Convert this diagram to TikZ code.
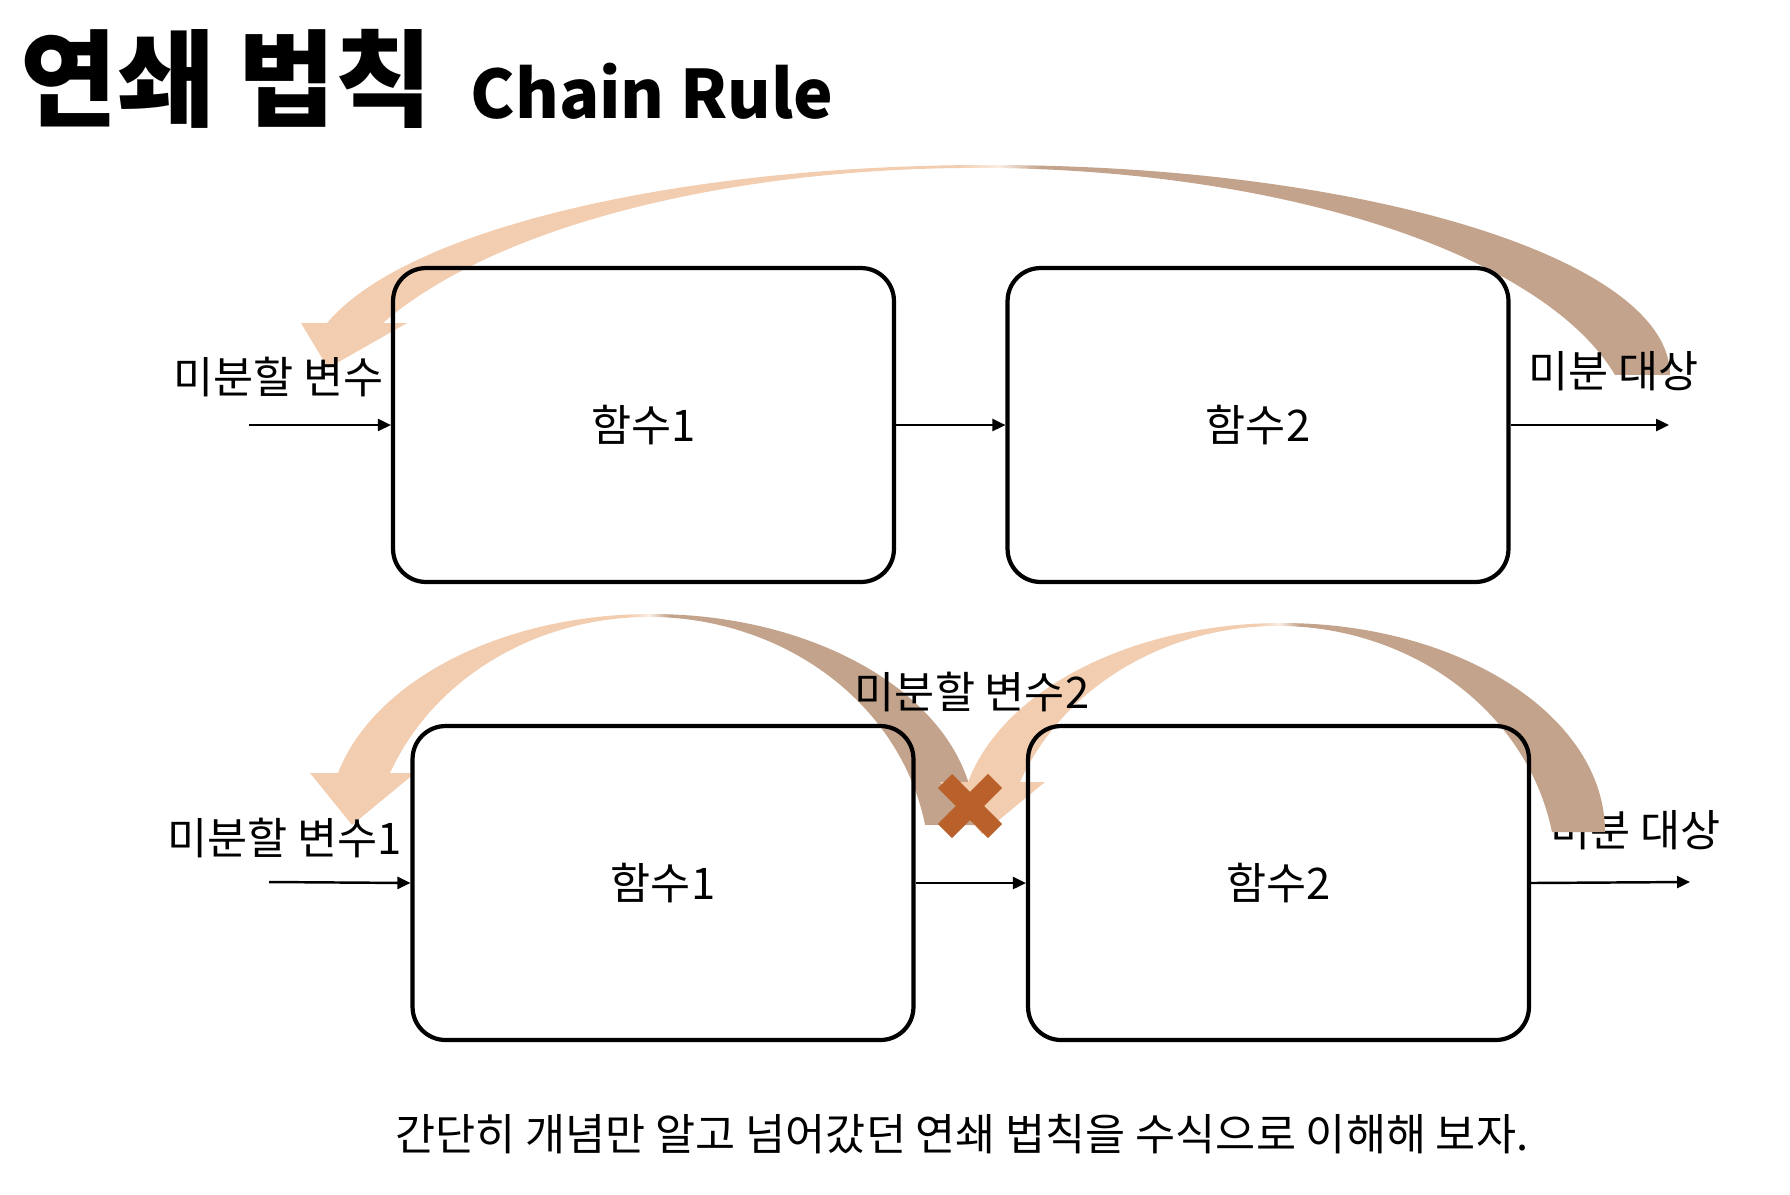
\documentclass[tikz,border=0pt]{standalone}
\usepackage{fontspec}
\setmainfont{Noto Sans CJK KR}
\usetikzlibrary{arrows.meta}
\usetikzlibrary{positioning}

\definecolor{arcpeach}{RGB}{242,205,176}
\definecolor{arcbrown}{RGB}{195,163,139}
\definecolor{crossred}{RGB}{185,96,43}
\pgfdeclarehorizontalshading{arcfade}{100bp}{color(0bp)=(arcpeach); color(49bp)=(arcpeach); color(50.5bp)=(arcpeach!35!white); color(52bp)=(arcbrown); color(100bp)=(arcbrown)}

\begin{document}
\begin{tikzpicture}[
        x=0.02cm, y=-0.02cm,
        every node/.style={inner sep=0pt},
        lbl/.style={font=\fontsize{24.8}{29}\selectfont},
        funcbox/.style={
            draw,
            line width=2.4pt,
            rounded corners=0.66cm,
            minimum width=10.02cm,
            minimum height=6.28cm,
            font=\fontsize{24.8}{29}\selectfont
        },
        conn/.style={line width=1.4pt, -{Triangle[length=2.6mm,width=2.4mm]}},
        bendarrow/.style={shading=arcfade},
        crossmark/.style={draw=crossred, line width=0.4cm}
    ]

    \useasboundingbox (0,0) rectangle (1790,1194);

    % title
    \node[anchor=base west, font=\fontsize{60}{64}\selectfont\bfseries] (title) at (20,118) {연쇄 법칙};
    \node[base right=0.75cm of title, font=\fontsize{38}{42}\selectfont\bfseries] (subtitle) {Chain Rule};

    % lower target sits under the bent arrow
    \node[lbl, anchor=west] (targetB) at (1550,830) {미분 대상};

    % bent arrows
    \shade[bendarrow] (1670,375) arc[start angle=0, end angle=-165.66, x radius=682.1, y radius=210]
        -- (301,323) -- (328,368) -- (407,323) -- (383,323)
        arc[start angle=-154.53, end angle=-13.83, x radius=657.5, y radius=272] -- cycle;

    \shade[bendarrow] (975,825) arc[start angle=0, end angle=-165.73, x radius=323.5, y radius=211]
        -- (310,773) -- (352,825) -- (415,773) -- (390,773)
        arc[start angle=-157.46, end angle=-10.25, x radius=280.5, y radius=253] -- cycle;

    \shade[bendarrow] (1605,832) arc[start angle=0, end angle=-166.16, x radius=323.2, y radius=209]
        -- (940,782) -- (982,834) -- (1045,782) -- (1020,782)
        arc[start angle=-157.76, end angle=-10.33, x radius=278.6, y radius=251] -- cycle;

    \draw[crossmark] (945,781) -- (995,831);
    \draw[crossmark] (945,831) -- (995,781);

    % upper chain
    \node[funcbox] (fA) at (643.5,425) {함수1};
    \node[funcbox] (gA) at (1258,425) {함수2};
    \coordinate (startA) at (249,425);
    \coordinate (endA) at (1669,425);

    \draw[conn] (startA) -- (fA.west);
    \draw[conn] (fA.east) -- (gA.west);
    \draw[conn] (gA.east) -- (endA);

    \node[lbl, anchor=east] (varA) at (384,377) {미분할 변수};
    \node[lbl, anchor=west] (targetA) at (1528,371) {미분 대상};

    % lower chain
    \node[funcbox] (fB) at (663,883) {함수1};
    \node[funcbox] (gB) at (1278.5,883) {함수2};
    \coordinate (startB) at (269,882);
    \coordinate (endB) at (1690,882);

    \draw[conn] (startB) -- (fB.west);
    \draw[conn] (fB.east) -- (gB.west);
    \draw[conn] (gB.east) -- (endB);

    \node[lbl, anchor=east] (varB) at (402,838) {미분할 변수1};
    \node[lbl] (varC) at (972,692) {미분할 변수2};

    \node[lbl] (caption) at (962,1134) {간단히 개념만 알고 넘어갔던 연쇄 법칙을 수식으로 이해해 보자.};

\end{tikzpicture}
\end{document}
